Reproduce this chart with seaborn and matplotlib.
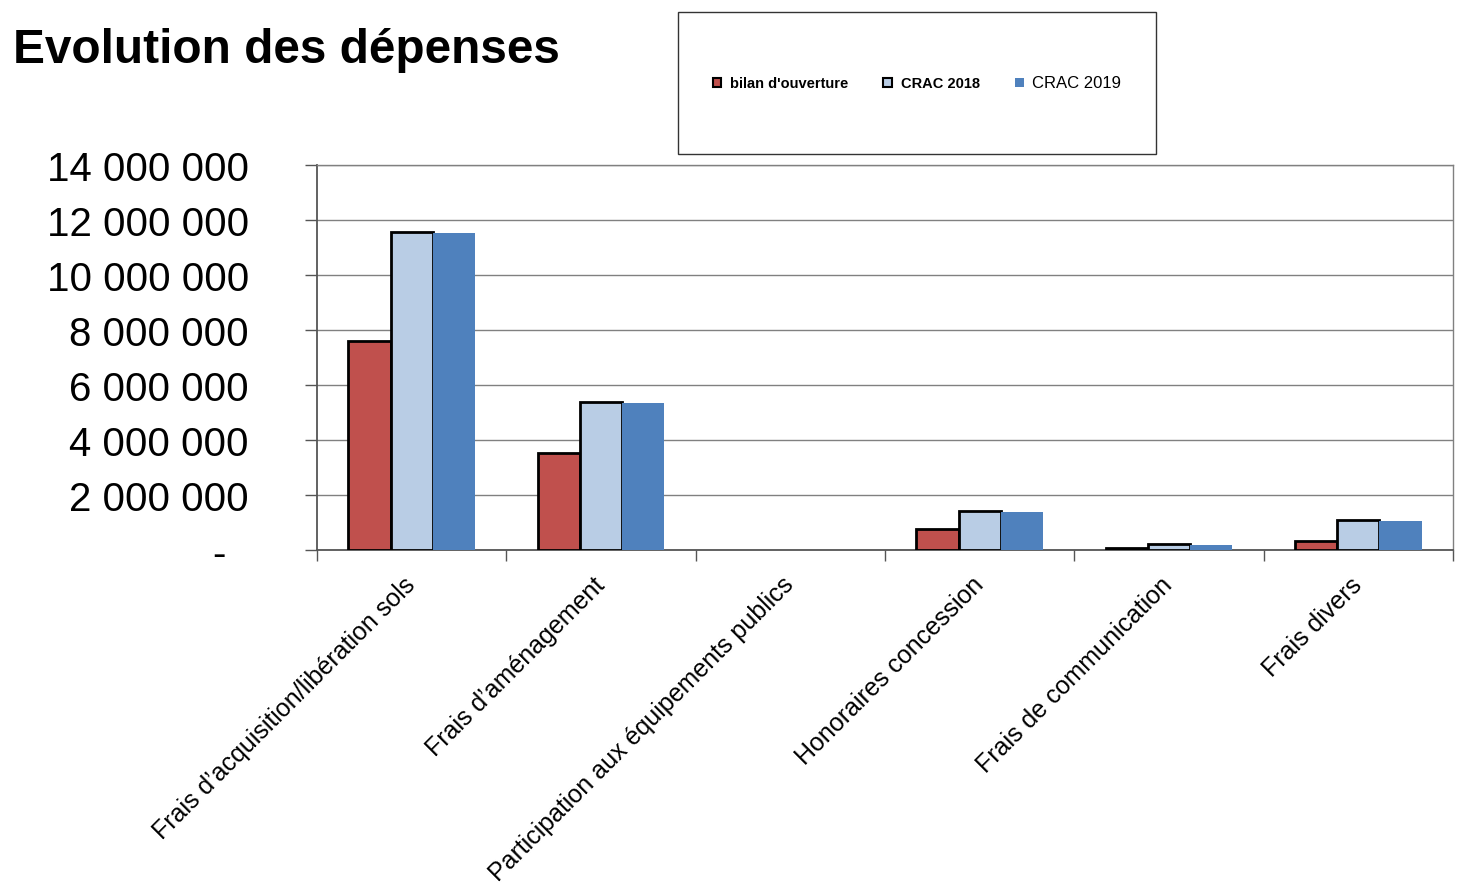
import matplotlib
matplotlib.use("Agg")
import matplotlib.pyplot as plt
from matplotlib.patches import Patch, Rectangle
from matplotlib.ticker import FixedLocator
import seaborn as sns
import pandas as pd

categories = ["Frais d’acquisition/libération sols", "Frais d’aménagement",
              "Participation aux équipements publics", "Honoraires concession",
              "Frais de communication", "Frais divers"]
series = ["bilan d'ouverture", "CRAC 2018", "CRAC 2019"]
bilan = [7600000, 3530000, 0, 760000, 70000, 330000]
crac_2018 = [11570000, 5380000, 0, 1420000, 220000, 1090000]
crac_2019 = [11540000, 5350000, 0, 1390000, 200000, 1060000]
y_ticks = [0, 2000000, 4000000, 6000000, 8000000, 10000000, 12000000, 14000000]
colors = ["#C0504D", "#B9CDE5", "#4F81BD"]

rows = []
for s, vals in zip(series, [bilan, crac_2018, crac_2019]):
    for c, v in zip(categories, vals):
        rows.append({"categorie": c, "serie": s, "montant": v})
data = pd.DataFrame(rows)

sns.set_theme(style="white")
plt.rcParams["font.family"] = ["Liberation Sans", "DejaVu Sans"]
plt.rcParams["text.color"] = "black"
plt.rcParams["xtick.color"] = "black"
plt.rcParams["ytick.color"] = "black"

fig = plt.figure(figsize=(14.61, 8.95), dpi=100)
ax = fig.add_axes([317 / 1461, 1 - 551 / 895, (1453 - 317) / 1461, (551 - 166) / 895])

sns.barplot(data=data, x="categorie", y="montant", hue="serie", palette=colors,
            width=0.67, gap=0, saturation=1, legend=False, ax=ax, zorder=3)

# contours noirs sur les deux premières séries (pas sur les barres nulles)
for cont, edge in zip(ax.containers, [True, True, False]):
    for bar in cont:
        if edge and bar.get_height() > 0:
            bar.set_edgecolor("black")
            bar.set_linewidth(2)
        else:
            bar.set_linewidth(0)

ax.set_xlim(-0.5, 5.5)
ax.set_ylim(0, 14000000)
ax.set_xlabel("")
ax.set_ylabel("")

ax.set_yticks(y_ticks)
ax.set_yticklabels(["-  "] + [f"{v:,}".replace(",", " ") for v in y_ticks[1:]], fontsize=29)
ax.tick_params(axis="y", direction="out", length=9, width=1, color="#555555",
               labelcolor="black", pad=40, left=True)
ax.yaxis.grid(True, color="#808080", linewidth=1)
ax.set_axisbelow(True)

ax.set_xticks(range(len(categories)))
ax.set_xticklabels(categories, rotation=45, ha="right", va="center",
                   rotation_mode="anchor", fontsize=18)
ax.tick_params(axis="x", length=0, pad=22, labelcolor="black")
ax.xaxis.set_minor_locator(FixedLocator([i - 0.5 for i in range(len(categories) + 1)]))
ax.tick_params(axis="x", which="minor", direction="out", length=8, width=1,
               color="#555555", bottom=True)

for side in ["left", "bottom"]:
    ax.spines[side].set_color("#555555")
    ax.spines[side].set_linewidth(1.3)
for side in ["right", "top"]:
    ax.spines[side].set_color("#808080")
    ax.spines[side].set_linewidth(1)

fig.text(13 / 1461, 1 - 63 / 895, "Evolution des dépenses", fontsize=34.4,
         fontweight="bold", va="baseline", ha="left", color="black")

# cadre de légende
fig.patches.append(Rectangle((678 / 1461, 1 - 155 / 895), (1156 - 678) / 1461,
                             (155 - 13) / 895, transform=fig.transFigure,
                             fill=False, edgecolor="#333333", linewidth=1))
handles = [Patch(facecolor=colors[0], edgecolor="black", linewidth=1.5),
           Patch(facecolor=colors[1], edgecolor="black", linewidth=1.5),
           Patch(facecolor=colors[2], edgecolor="none")]
leg = fig.legend(handles, series, loc="center", ncol=3,
                 bbox_to_anchor=(917 / 1461, 1 - 84 / 895), frameon=False,
                 prop={"size": 10.5, "weight": "bold"}, handlelength=0.6,
                 handleheight=0.6, handletextpad=0.6, columnspacing=2.4)
for t in leg.get_texts():
    t.set_color("black")
leg.get_texts()[2].set_fontweight("normal")
leg.get_texts()[2].set_fontsize(12)

fig.savefig("out.png", dpi=100)
